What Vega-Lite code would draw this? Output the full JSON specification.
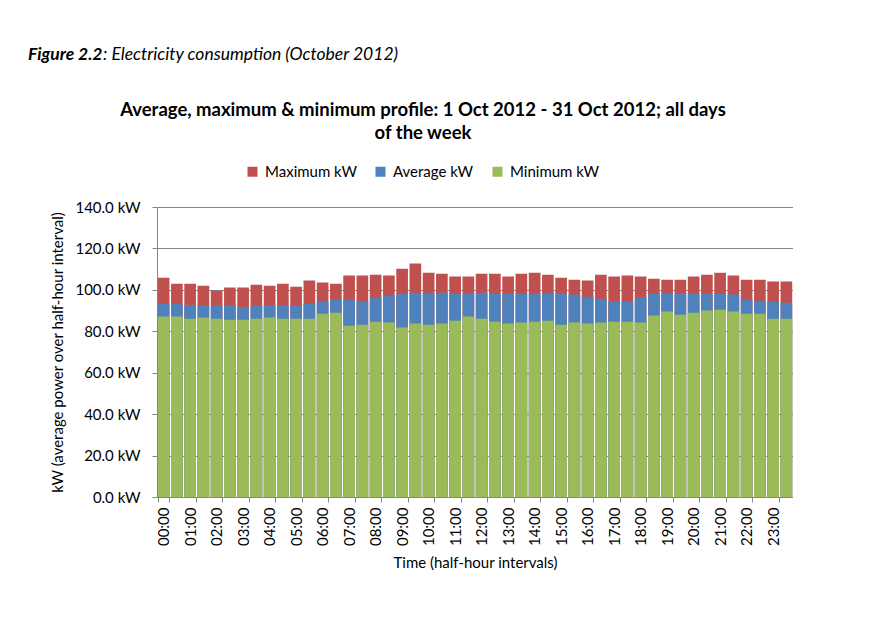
{
  "$schema": "https://vega.github.io/schema/vega-lite/v6.json",
  "padding": {"left": 28, "top": 45, "right": 0, "bottom": 0},
  "background": "white",
  "config": {
    "font": "Lato",
    "view": {"stroke": null}
  },
  "spacing": 36,
  "resolve": {"legend": {"color": "independent"}},
  "vconcat": [
    {
      "bounds": "flush",
      "spacing": 0,
      "hconcat": [
        {
          "title": {"text": "Figure 2.2", "fontSize": 17.5, "fontWeight": "bold", "fontStyle": "italic", "anchor": "start", "color": "#000000", "offset": 0, "dx": -129},
          "data": {"values": []},
          "mark": "text",
          "width": 75,
          "height": 1
        },
        {
          "title": {"text": ": Electricity consumption (October 2012)", "fontSize": 17.5, "fontWeight": "normal", "fontStyle": "italic", "anchor": "start", "color": "#000000", "offset": 0, "dx": -129},
          "data": {"values": []},
          "mark": "text",
          "width": 1,
          "height": 1
        }
      ]
    },
    {
      "width": 636,
      "height": 290,
      "title": {
        "text": ["Average, maximum & minimum profile: 1 Oct 2012 - 31 Oct 2012; all days", "of the week"],
        "fontSize": 18.5,
        "fontWeight": "bold",
        "anchor": "middle",
        "dx": -52,
        "lineHeight": 23,
        "offset": 22,
        "color": "#000000"
      },
      "data": {
        "values": [
          {"t": "00:00", "Maximum kW": 105.9, "Average kW": 93.3, "Minimum kW": 87.1},
          {"t": "00:30", "Maximum kW": 103.0, "Average kW": 93.3, "Minimum kW": 87.1},
          {"t": "01:00", "Maximum kW": 103.0, "Average kW": 92.7, "Minimum kW": 86.1},
          {"t": "01:30", "Maximum kW": 102.0, "Average kW": 92.4, "Minimum kW": 86.6},
          {"t": "02:00", "Maximum kW": 99.6, "Average kW": 92.4, "Minimum kW": 86.1},
          {"t": "02:30", "Maximum kW": 101.1, "Average kW": 92.4, "Minimum kW": 85.6},
          {"t": "03:00", "Maximum kW": 101.1, "Average kW": 91.7, "Minimum kW": 85.6},
          {"t": "03:30", "Maximum kW": 102.5, "Average kW": 92.4, "Minimum kW": 86.1},
          {"t": "04:00", "Maximum kW": 102.0, "Average kW": 92.4, "Minimum kW": 86.6},
          {"t": "04:30", "Maximum kW": 103.0, "Average kW": 92.4, "Minimum kW": 86.1},
          {"t": "05:00", "Maximum kW": 101.5, "Average kW": 92.4, "Minimum kW": 86.1},
          {"t": "05:30", "Maximum kW": 104.5, "Average kW": 93.3, "Minimum kW": 86.1},
          {"t": "06:00", "Maximum kW": 103.5, "Average kW": 94.3, "Minimum kW": 88.5},
          {"t": "06:30", "Maximum kW": 103.0, "Average kW": 95.3, "Minimum kW": 89.0},
          {"t": "07:00", "Maximum kW": 106.9, "Average kW": 95.3, "Minimum kW": 82.7},
          {"t": "07:30", "Maximum kW": 106.9, "Average kW": 94.6, "Minimum kW": 83.2},
          {"t": "08:00", "Maximum kW": 107.3, "Average kW": 96.2, "Minimum kW": 84.6},
          {"t": "08:30", "Maximum kW": 106.9, "Average kW": 97.2, "Minimum kW": 84.2},
          {"t": "09:00", "Maximum kW": 110.2, "Average kW": 98.2, "Minimum kW": 81.8},
          {"t": "09:30", "Maximum kW": 112.7, "Average kW": 98.6, "Minimum kW": 83.7},
          {"t": "10:00", "Maximum kW": 108.3, "Average kW": 98.6, "Minimum kW": 83.2},
          {"t": "10:30", "Maximum kW": 107.8, "Average kW": 98.6, "Minimum kW": 83.7},
          {"t": "11:00", "Maximum kW": 106.4, "Average kW": 98.2, "Minimum kW": 85.1},
          {"t": "11:30", "Maximum kW": 106.4, "Average kW": 98.2, "Minimum kW": 87.1},
          {"t": "12:00", "Maximum kW": 107.8, "Average kW": 98.6, "Minimum kW": 86.1},
          {"t": "12:30", "Maximum kW": 107.8, "Average kW": 98.2, "Minimum kW": 84.6},
          {"t": "13:00", "Maximum kW": 106.4, "Average kW": 98.2, "Minimum kW": 83.7},
          {"t": "13:30", "Maximum kW": 107.8, "Average kW": 98.2, "Minimum kW": 84.2},
          {"t": "14:00", "Maximum kW": 108.3, "Average kW": 98.2, "Minimum kW": 84.6},
          {"t": "14:30", "Maximum kW": 107.3, "Average kW": 98.6, "Minimum kW": 85.1},
          {"t": "15:00", "Maximum kW": 105.9, "Average kW": 98.2, "Minimum kW": 83.2},
          {"t": "15:30", "Maximum kW": 104.9, "Average kW": 97.7, "Minimum kW": 84.2},
          {"t": "16:00", "Maximum kW": 104.5, "Average kW": 96.7, "Minimum kW": 83.7},
          {"t": "16:30", "Maximum kW": 107.3, "Average kW": 95.7, "Minimum kW": 84.2},
          {"t": "17:00", "Maximum kW": 106.4, "Average kW": 94.3, "Minimum kW": 84.6},
          {"t": "17:30", "Maximum kW": 106.9, "Average kW": 94.3, "Minimum kW": 84.6},
          {"t": "18:00", "Maximum kW": 106.4, "Average kW": 96.2, "Minimum kW": 84.2},
          {"t": "18:30", "Maximum kW": 105.4, "Average kW": 98.2, "Minimum kW": 87.6},
          {"t": "19:00", "Maximum kW": 104.9, "Average kW": 98.6, "Minimum kW": 89.5},
          {"t": "19:30", "Maximum kW": 104.9, "Average kW": 98.2, "Minimum kW": 88.0},
          {"t": "20:00", "Maximum kW": 106.4, "Average kW": 98.2, "Minimum kW": 89.0},
          {"t": "20:30", "Maximum kW": 107.3, "Average kW": 98.2, "Minimum kW": 90.0},
          {"t": "21:00", "Maximum kW": 108.3, "Average kW": 98.2, "Minimum kW": 90.4},
          {"t": "21:30", "Maximum kW": 106.9, "Average kW": 97.7, "Minimum kW": 89.5},
          {"t": "22:00", "Maximum kW": 104.9, "Average kW": 95.3, "Minimum kW": 88.5},
          {"t": "22:30", "Maximum kW": 104.9, "Average kW": 94.8, "Minimum kW": 88.5},
          {"t": "23:00", "Maximum kW": 104.0, "Average kW": 94.3, "Minimum kW": 86.1},
          {"t": "23:30", "Maximum kW": 104.0, "Average kW": 93.8, "Minimum kW": 86.1}
        ]
      },
      "transform": [
        {"fold": ["Maximum kW", "Average kW", "Minimum kW"], "as": ["series", "kw"]}
      ],
      "mark": {"type": "bar"},
      "encoding": {
        "x": {
          "field": "t",
          "type": "nominal",
          "sort": null,
          "scale": {"paddingInner": 0.12, "paddingOuter": 0.06},
          "axis": {
            "title": "Time (half-hour intervals)",
            "values": ["00:00","01:00","02:00","03:00","04:00","05:00","06:00","07:00","08:00","09:00","10:00","11:00","12:00","13:00","14:00","15:00","16:00","17:00","18:00","19:00","20:00","21:00","22:00","23:00"],
            "labelAngle": -90,
            "labelAlign": "right",
            "labelBaseline": "middle",
            "tickBand": "extent",
            "tickSize": 5,
            "labelPadding": 5,
            "domainColor": "#868686",
            "tickColor": "#868686",
            "labelColor": "#000000",
            "labelFontSize": 15,
            "titleFontSize": 15,
            "titleFontWeight": "normal",
            "titleColor": "#000000",
            "titlePadding": 10,
            "grid": false
          }
        },
        "y": {
          "field": "kw",
          "type": "quantitative",
          "stack": null,
          "scale": {"domain": [0, 140]},
          "axis": {
            "title": "kW (average power over half-hour interval)",
            "values": [0, 20, 40, 60, 80, 100, 120, 140],
            "labelExpr": "format(datum.value, '.1f') + ' kW'",
            "grid": true,
            "gridColor": "#868686",
            "gridOpacity": 1,
            "domainColor": "#868686",
            "tickColor": "#868686",
            "tickSize": 5,
            "labelPadding": 12,
            "labelFontSize": 15,
            "labelColor": "#000000",
            "titleFontSize": 15,
            "titleFontWeight": "normal",
            "titleColor": "#000000",
            "titlePadding": 9
          }
        },
        "color": {
          "field": "series",
          "type": "nominal",
          "sort": null,
          "scale": {"domain": ["Maximum kW", "Average kW", "Minimum kW"], "range": ["#C0504D", "#4F81BD", "#9BBB59"]},
          "legend": {
            "orient": "none",
            "legendX": 88,
            "legendY": -43,
            "direction": "horizontal",
            "title": null,
            "symbolType": "square",
            "symbolSize": 100,
            "symbolStrokeWidth": 0,
            "symbolOpacity": 1,
            "labelFontSize": 15,
            "labelColor": "#000000",
            "labelOffset": 5,
            "columnPadding": 16
          }
        }
      }
    }
  ]
}
